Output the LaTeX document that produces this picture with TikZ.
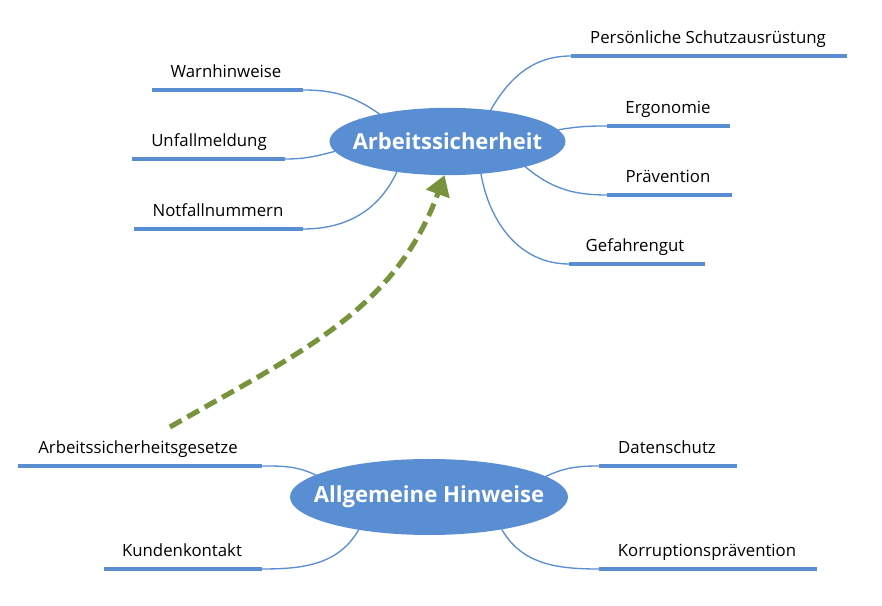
\documentclass[tikz,border=0pt]{standalone}
\usepackage{fontspec}
\setmainfont{Open Sans}
\usetikzlibrary{shapes.geometric,arrows.meta}
\definecolor{mapblue}{RGB}{89,142,211}
\definecolor{olive}{RGB}{119,147,60}
\begin{document}
\begin{tikzpicture}[x=0.75pt,y=0.75pt,
  topic/.style={ellipse,fill=mapblue,inner sep=0pt,outer sep=0pt},
  title/.style={inner sep=0pt,text=white,font=\fontsize{16.5}{19}\selectfont\bfseries},
  label/.style={anchor=base,inner sep=0pt,font=\fontsize{12.6}{15}\selectfont,text=black},
  bar/.style={draw=mapblue,line width=3pt},
  conn/.style={draw=mapblue,line width=1pt},
  bigarrow/.style={draw=olive,line width=3.8pt,dash pattern=on 10pt off 5pt,
    -{Triangle[length=15pt,width=18pt,fill=olive]}}]
\useasboundingbox (0,0) rectangle (882,606);

% central topics
\node[topic,minimum width=177pt,minimum height=50.5pt] (A) at (447.5,464.5) {};
\node[title] (At) at (A.center) {Arbeitssicherheit};
\node[topic,minimum width=208.5pt,minimum height=57pt] (B) at (429,109) {};
\node[title,font=\fontsize{16.6}{19}\selectfont\bfseries] (Bt) at (B.center) {Allgemeine Hinweise};

% ---- top left branches
\coordinate (w1) at (152,516); \coordinate (w2) at (303,516);
\node[label] (tw) at (226,528) {Warnhinweise};
\draw[bar] (w1) -- (w2);
\draw[conn] (w2) to[out=0,in=145] (A.158);

\coordinate (u1) at (132,447); \coordinate (u2) at (285,447);
\node[label] (tu) at (209,459) {Unfallmeldung};
\draw[bar] (u1) -- (u2);
\draw[conn] (u2) to[out=0,in=195] (A.185);

\coordinate (n1) at (134,377); \coordinate (n2) at (303,377);
\node[label] (tn) at (218,389) {Notfallnummern};
\draw[bar] (n1) -- (n2);
\draw[conn] (n2) to[out=0,in=245] (A.211);

% ---- top right branches
\coordinate (p1) at (571,550); \coordinate (p2) at (847,550);
\node[label] (tp) at (708,562) {Persönliche Schutzausrüstung};
\draw[bar] (p1) -- (p2);
\draw[conn] (p1) to[out=180,in=60] (A.36);

\coordinate (e1) at (607,480); \coordinate (e2) at (730,480);
\node[label] (te) at (668,492) {Ergonomie};
\draw[bar] (e1) -- (e2);
\draw[conn] (e1) to[out=180,in=10] (A.6);

\coordinate (v1) at (607,411); \coordinate (v2) at (732,411);
\node[label] (tv) at (668,423) {Prävention};
\draw[bar] (v1) -- (v2);
\draw[conn] (v1) to[out=180,in=-40] (A.342);

\coordinate (g1) at (569,342); \coordinate (g2) at (705,342);
\node[label] (tg) at (635,354) {Gefahrengut};
\draw[bar] (g1) -- (g2);
\draw[conn] (g1) to[out=180,in=-80] (A.316);

% ---- bottom branches
\coordinate (s1) at (18,140); \coordinate (s2) at (262,140);
\node[label] (ts) at (138,152) {Arbeitssicherheitsgesetze};
\draw[bar] (s1) -- (s2);
\draw[conn] (s2) to[out=0,in=155] (B.169);

\coordinate (k1) at (104,37); \coordinate (k2) at (262,37);
\node[label] (tk) at (182,49) {Kundenkontakt};
\draw[bar] (k1) -- (k2);
\draw[conn] (k2) to[out=0,in=240] (B.205);

\coordinate (d1) at (599,140); \coordinate (d2) at (737,140);
\node[label] (td) at (667,152) {Datenschutz};
\draw[bar] (d1) -- (d2);
\draw[conn] (d1) to[out=180,in=25] (B.10);

\coordinate (r1) at (599,37); \coordinate (r2) at (817,37);
\node[label] (tr) at (707,49) {Korruptionsprävention};
\draw[bar] (r1) -- (r2);
\draw[conn] (r1) to[out=180,in=300] (B.336);

% ---- dashed arrow
\coordinate (as) at (170,179);
\draw[bigarrow] (as) to[out=30,in=250] (A.265);
\end{tikzpicture}
\end{document}
